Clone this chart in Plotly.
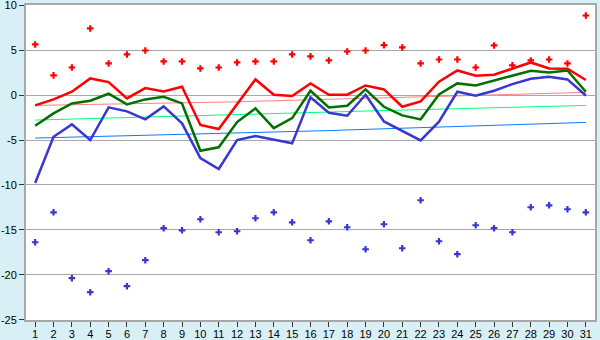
import plotly.graph_objects as go

days = list(range(1, 32))

max_pts = [5.63, 2.19, 3.07, 7.41, 3.52, 4.52, 4.96, 3.74, 3.74, 2.96, 3.07, 3.63, 3.74, 3.74, 4.52, 4.30,
           3.85, 4.85, 4.96, 5.56, 5.30, 3.52, 3.96, 3.96, 3.07, 5.52, 3.30, 3.85, 3.96, 3.52, 8.85]
min_pts = [-16.37, -13.04, -20.37, -21.93, -19.59, -21.26, -18.37, -14.81, -15.04, -13.81, -15.26, -15.15,
           -13.70, -13.04, -14.15, -16.15, -14.04, -14.70, -17.15, -14.37, -17.04, -11.70, -16.26, -17.70,
           -14.48, -14.81, -15.26, -12.48, -12.26, -12.70, -13.04]
max_line = [-1.15, -0.48, 0.37, 1.85, 1.44, -0.37, 0.78, 0.41, 0.93, -3.33, -3.78, -1.04, 1.74, 0.04, -0.11,
            1.30, 0.04, 0.04, 1.07, 0.63, -1.30, -0.70, 1.48, 2.74, 2.15, 2.26, 2.96, 3.63, 2.96, 2.93, 1.67]
mean_line = [-3.41, -2.04, -0.93, -0.63, 0.15, -1.04, -0.48, -0.19, -0.93, -6.19, -5.81, -3.00, -1.48, -3.67,
             -2.56, 0.48, -1.37, -1.19, 0.63, -1.30, -2.26, -2.70, 0.07, 1.30, 1.07, 1.59, 2.19, 2.70, 2.52,
             2.74, 0.37]
min_line = [-9.78, -4.63, -3.26, -5.00, -1.37, -1.81, -2.70, -1.26, -3.15, -7.00, -8.22, -5.00, -4.56, -4.93,
            -5.37, -0.26, -1.96, -2.30, 0.04, -2.93, -3.96, -5.04, -2.96, 0.37, -0.07, 0.48, 1.22, 1.81, 2.04,
            1.74, -0.04]
norm_max = [-1.15, -1.12, -1.08, -1.05, -1.02, -0.98, -0.95, -0.92, -0.88, -0.85, -0.80, -0.75, -0.69, -0.64,
            -0.58, -0.53, -0.48, -0.42, -0.37, -0.31, -0.26, -0.20, -0.15, -0.09, -0.04, 0.02, 0.07, 0.13,
            0.19, 0.24, 0.30]
norm_mean = [-2.78, -2.72, -2.66, -2.60, -2.54, -2.48, -2.42, -2.36, -2.30, -2.24, -2.19, -2.14, -2.08, -2.03,
             -1.98, -1.93, -1.88, -1.82, -1.77, -1.72, -1.67, -1.62, -1.57, -1.51, -1.46, -1.41, -1.36, -1.31,
             -1.25, -1.20, -1.15]
norm_min = [-4.78, -4.73, -4.69, -4.64, -4.60, -4.55, -4.51, -4.46, -4.42, -4.37, -4.31, -4.25, -4.19, -4.13,
            -4.07, -4.01, -3.95, -3.88, -3.82, -3.76, -3.70, -3.63, -3.57, -3.50, -3.43, -3.37, -3.30, -3.24,
            -3.17, -3.11, -3.04]

y_ticks = [10, 5, 0, -5, -10, -15, -20, -25]
y_tick_text = ["10", "5", "0", "-5", "-10", "-15", "-20", "-25"]

fig = go.Figure()

def add_line(y, color, width):
    fig.add_trace(go.Scatter(x=days, y=y, mode="lines", line=dict(color=color, width=width),
                             showlegend=False, hoverinfo="skip"))

add_line(norm_max, "#FF8080", 1)
add_line(norm_mean, "#00FF80", 1)
add_line(norm_min, "#0A7BFF", 1)
add_line(min_line, "#3838D0", 2.5)
add_line(mean_line, "#007000", 2.5)
add_line(max_line, "#FF0000", 2.5)

fig.add_trace(go.Scatter(x=days, y=max_pts, mode="markers",
                         marker=dict(symbol="cross", size=5.5, color="#FF0000", line=dict(width=0)),
                         showlegend=False))
fig.add_trace(go.Scatter(x=days, y=min_pts, mode="markers",
                         marker=dict(symbol="cross", size=5.5, color="#3838D0", line=dict(width=0)),
                         showlegend=False))

fig.update_layout(
    width=600, height=340,
    margin=dict(l=26, r=5, t=5, b=20, autoexpand=False),
    paper_bgcolor="#D9EFF6",
    plot_bgcolor="#FFFFFF",
    font=dict(family="Liberation Sans", size=11, color="#000000"),
)
fig.update_xaxes(range=[0.5, 31.5], tickvals=days, ticktext=[str(d) for d in days], automargin=False,
                 showgrid=False, zeroline=False, showline=True, linecolor="#A8A8A8", linewidth=2,
                 mirror=True, ticks="outside", ticklen=5, tickcolor="#333333", tickwidth=1, tickangle=0,
                 ticklabelstandoff=-2, ticklabeloverflow="allow")
fig.update_yaxes(range=[-25.02, 10.02], tickvals=y_ticks, ticktext=y_tick_text, automargin=False,
                 showgrid=True, gridcolor="#A8A8A8", gridwidth=1, zeroline=False,
                 showline=True, linecolor="#A8A8A8", linewidth=2, mirror=True,
                 ticks="outside", ticklen=5, tickcolor="#333333", tickwidth=1, ticklabelstandoff=0,
                 ticklabeloverflow="allow")

fig.write_html("out.html", config={"displayModeBar": False},
               post_script="document.body.style.margin='0';document.body.style.padding='0';document.body.style.overflow='hidden';")
